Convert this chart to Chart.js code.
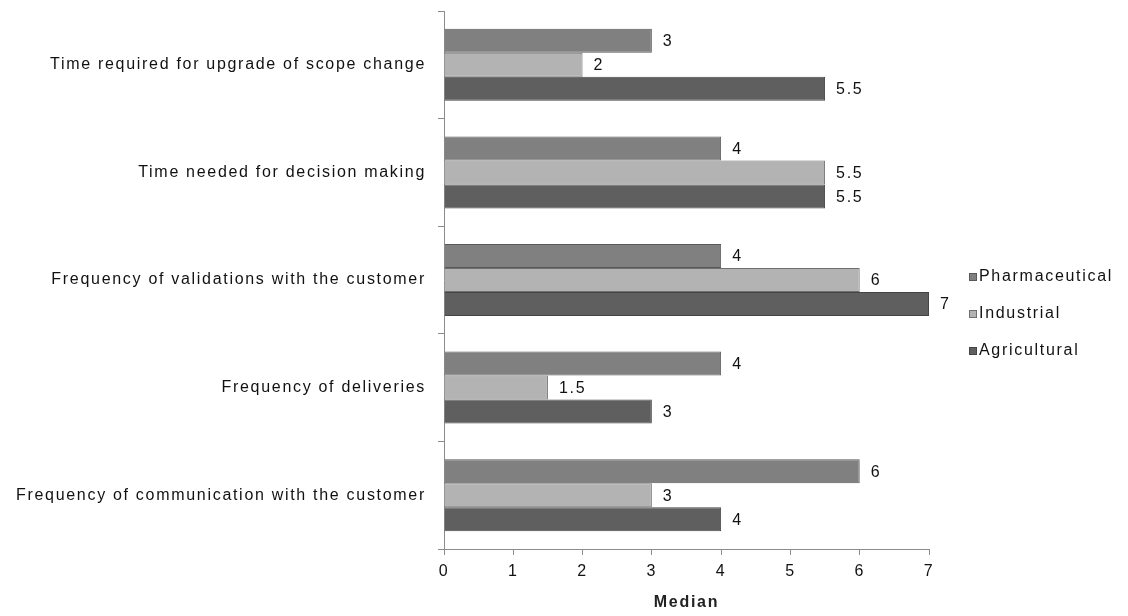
<!DOCTYPE html>
<html>
<head>
<meta charset="utf-8">
<script src="https://cdn.jsdelivr.net/npm/chart.js@4/dist/chart.umd.min.js"></script>
<style>
  html, body { margin: 0; padding: 0; background: #fff; }
  #wrap { width: 1128px; height: 616px; position: relative; }
</style>
</head>
<body>
<div id="wrap"><canvas id="medianChart"></canvas></div>
<script>
const categories = [
    'Time required for upgrade of scope change',
    'Time needed for decision making',
    'Frequency of validations with the customer',
    'Frequency of deliveries',
    'Frequency of communication with the customer'
];
const pharmaceutical = [3, 4, 4, 4, 6];
const industrial = [2, 5.5, 6, 1.5, 3];
const agricultural = [5.5, 5.5, 7, 3, 4];
const xTicks = [0, 1, 2, 3, 4, 5, 6, 7];

const FONT = 'Arial, "Liberation Sans", sans-serif';
Chart.defaults.font.family = FONT;
Chart.defaults.font.size = 16;
Chart.defaults.color = '#111';

// the original text is quite wide, give it some tracking
const spacing = {
    id: 'spacing',
    beforeLayout(chart) { chart.ctx.letterSpacing = '1.7px'; },
    beforeDraw(chart) { chart.ctx.letterSpacing = '1.7px'; }
};

// value text right of each bar
const valueLabels = {
    id: 'valueLabels',
    afterDatasetsDraw(chart) {
        const ctx = chart.ctx;
        ctx.save();
        ctx.font = '16px ' + FONT;
        ctx.fillStyle = '#111';
        ctx.textBaseline = 'middle';
        ctx.textAlign = 'left';
        chart.data.datasets.forEach((ds, i) => {
            const meta = chart.getDatasetMeta(i);
            meta.data.forEach((bar, j) => {
                ctx.fillText(String(ds.data[j]), bar.x + 11, bar.y + 1);
            });
        });
        ctx.restore();
    }
};

// small legend to the right, tight box/text gap like the original
const sideLegend = {
    id: 'sideLegend',
    afterDraw(chart) {
        const ctx = chart.ctx;
        const x = chart.chartArea.right + 40;
        let y = 277;
        ctx.save();
        ctx.font = '16px ' + FONT;
        ctx.textBaseline = 'middle';
        ctx.textAlign = 'left';
        chart.data.datasets.forEach(ds => {
            ctx.fillStyle = ds.backgroundColor;
            ctx.fillRect(x, y - 4, 8, 8);
            ctx.strokeStyle = ds.borderColor;
            ctx.lineWidth = 1;
            ctx.strokeRect(x + 0.5, y - 3.5, 7, 7);
            ctx.fillStyle = '#111';
            ctx.fillText(ds.label, x + 10, y);
            y += 37;
        });
        ctx.restore();
    }
};

const ctx = document.getElementById('medianChart');
const chart = new Chart(ctx, {
    type: 'bar',
    data: {
        labels: categories,
        datasets: [
            { label: 'Pharmaceutical', data: pharmaceutical, backgroundColor: '#808080', borderColor: '#595959', borderWidth: 1 },
            { label: 'Industrial', data: industrial, backgroundColor: '#b3b3b3', borderColor: '#707070', borderWidth: 1 },
            { label: 'Agricultural', data: agricultural, backgroundColor: '#5f5f5f', borderColor: '#454545', borderWidth: 1 }
        ]
    },
    options: {
        indexAxis: 'y',
        responsive: true,
        maintainAspectRatio: false,
        animation: false,
        layout: { padding: { top: 11, left: 0, right: 199, bottom: 0 } },
        datasets: { bar: { categoryPercentage: 0.669, barPercentage: 1.0 } },
        scales: {
            x: {
                min: 0, max: 7,
                afterBuildTicks: (axis) => { axis.ticks = xTicks.map(v => ({ value: v })); },
                afterFit: (axis) => { axis.height = 67; axis.paddingLeft = 0; axis.paddingRight = 0; },
                grid: { drawOnChartArea: false, tickLength: 6, color: '#8c8c8c' },
                border: { color: '#8c8c8c' },
                ticks: { padding: 7, color: '#111' },
                title: { display: true, text: 'Median', font: { weight: 'bold', size: 16 }, color: '#222', padding: { top: 0 } }
            },
            y: {
                afterFit: (axis) => { axis.width = 444; axis.paddingTop = 0; axis.paddingBottom = 0; },
                grid: { drawOnChartArea: false, tickLength: 6, color: '#8c8c8c' },
                border: { color: '#8c8c8c' },
                ticks: { padding: 12, color: '#111' }
            }
        },
        plugins: {
            legend: { display: false },
            tooltip: { enabled: false }
        }
    },
    plugins: [spacing, valueLabels, sideLegend]
});
</script>
</body>
</html>
